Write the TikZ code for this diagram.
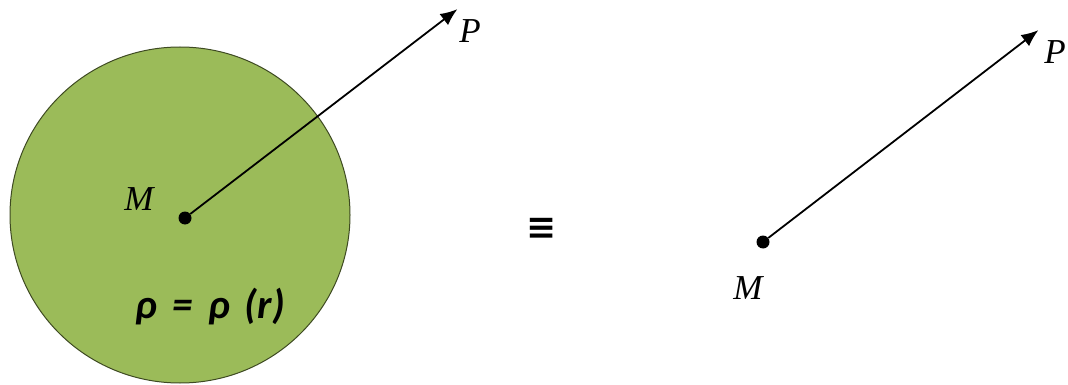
\documentclass[tikz,border=0pt]{standalone}
\usepackage{fontspec}
\setmainfont{Liberation Serif}
\newfontfamily\calib{Carlito}
\newfontfamily\dejabold{DejaVu Sans}
\usetikzlibrary{arrows.meta}
\definecolor{ballgreen}{HTML}{9BBB59}
\definecolor{ballrim}{HTML}{3E4A22}
\tikzset{
  vec/.style={line width=1.8pt, -{Latex[length=17pt,width=14pt]}, shorten >=-3pt},
  pt/.style={circle, fill=black, inner sep=0pt, minimum size=13pt},
  lbl/.style={font=\fontsize{35}{40}\selectfont\itshape, inner sep=0pt}
}
\begin{document}
\begin{tikzpicture}[x=1pt,y=-1pt]
\useasboundingbox (0,0) rectangle (1068,385);
\fill[ballgreen, draw=ballrim, line width=1pt] (180,215) circle[x radius=170, y radius=168];
\node[pt] (m1) at (185,218) {};
\coordinate (p1) at (455,11);
\draw[vec] (m1) -- (p1);
\node[lbl] (lm1) at (139,199) {M};
\node[lbl] (lp1) at (470,31) {P};
\node[font=\calib\bfseries\itshape\fontsize{41}{46}\selectfont, inner sep=0pt] (rho) at (210,307) {ρ\hspace{16pt}=\hspace{15pt}ρ\hspace{15pt}(r)};
\node[font=\dejabold\bfseries\fontsize{36}{40}\selectfont, inner sep=0pt] (eq) at (542,229) {≡};
\node[pt] (m2) at (763,242) {};
\coordinate (p2) at (1036,32);
\draw[vec] (m2) -- (p2);
\node[lbl] (lm2) at (748,288) {M};
\node[lbl] (lp2) at (1055,52) {P};
\end{tikzpicture}
\end{document}
